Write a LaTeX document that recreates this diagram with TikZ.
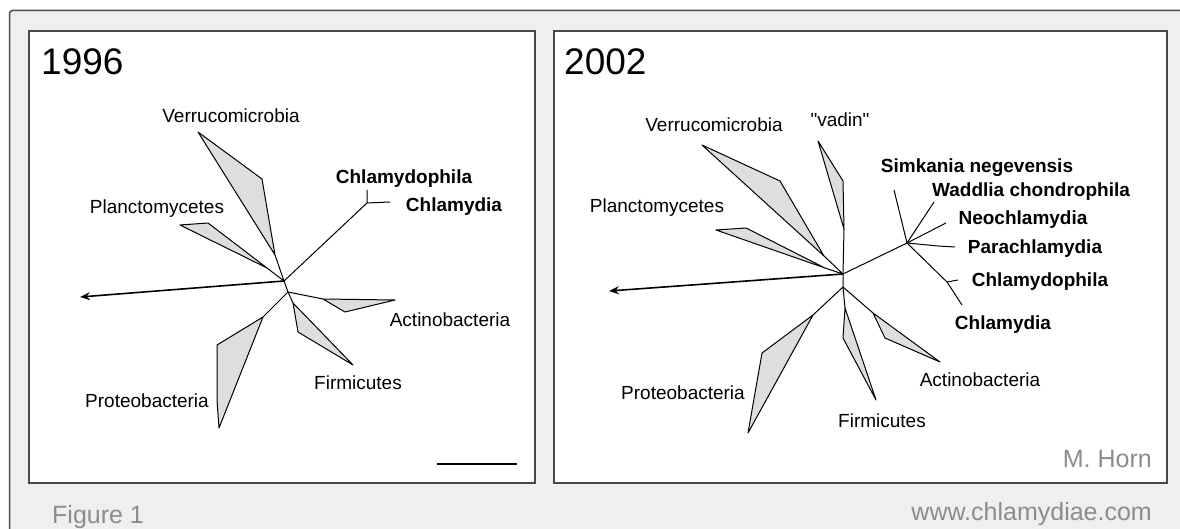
\documentclass[tikz,border=0pt]{standalone}
\usepackage{fontspec}
\setmainfont{Liberation Sans}
\newfontfamily\labelfont{Liberation Sans}
\usetikzlibrary{arrows.meta}
\definecolor{panelgray}{HTML}{EFEFEF}
\definecolor{framegray}{HTML}{4A4A4A}
\definecolor{wedgegray}{HTML}{DEDEDE}
\definecolor{captiongray}{HTML}{8C8C8C}
\tikzset{
	branch/.style={line width=1pt, line join=round},
	wedge/.style={branch, fill=wedgegray},
	panel/.style={draw=framegray, line width=2pt, fill=white},
	taxon/.style={inner sep=0pt, font=\labelfont\fontsize{19}{19}\selectfont},
	taxonbold/.style={inner sep=0pt, font=\labelfont\fontsize{19}{19}\selectfont\bfseries},
	year/.style={inner sep=0pt, anchor=base west, font=\fontsize{37}{37}\selectfont},
	caption/.style={inner sep=0pt, text=captiongray, font=\fontsize{25}{25}\selectfont},
	outgroup/.style={line width=1.6pt, -{Stealth[length=10pt,width=8pt]}},
}
\begin{document}
\begin{tikzpicture}[x=1pt,y=-1pt]
	\useasboundingbox (0,0) rectangle (1180,529);
	\clip (0,0) rectangle (1180,529);
	% frame and panels
	\draw [draw=framegray, line width=1.5pt, fill=panelgray, rounded corners=3pt] (9.5,10.5) rectangle (1220,560);
	\draw [panel] (29,31) rectangle (535,483);
	\draw [panel] (554,31) rectangle (1167,483);

	\node [year] (y-1996) at (41,75) {1996};
	\node [year] (y-2002) at (564,75) {2002};

	% 1996 tree
	\foreach \n/\x/\y in {a/284/281, b/288/292, out/80/297,
			chl/367/203, chl-1/367/190, chl-2/390/202,
			ver-1/198/132, ver-2/262/179, ver-3/275/255,
			pla-1/180/225, pla-2/208/223, pla-3/267/268,
			act-1/323/299, act-2/395/300, act-3/345/312,
			fir-1/293/303, fir-2/298/332, fir-3/353/365,
			pro-1/263/317, pro-2/217/345, pro-3/217/400, pro-4/219/428}{
			\coordinate (l-\n) at (\x,\y);
		}
	\draw [wedge] (l-ver-1) -- (l-ver-2) -- (l-ver-3) -- cycle;
	\draw [wedge] (l-pla-1) -- (l-pla-2) -- (l-pla-3) -- cycle;
	\draw [wedge] (l-act-1) -- (l-act-2) -- (l-act-3) -- cycle;
	\draw [wedge] (l-fir-1) -- (l-fir-2) -- (l-fir-3) -- cycle;
	\draw [wedge] (l-pro-1) -- (l-pro-2) -- (l-pro-3) -- (l-pro-4) -- cycle;
	\draw [branch] (l-ver-3) -- (l-a) -- (l-pla-3);
	\draw [branch] (l-a) -- (l-b);
	\draw [branch] (l-act-1) -- (l-b) -- (l-fir-1);
	\draw [branch] (l-b) -- (l-pro-1);
	\draw [branch] (l-a) -- (l-chl);
	\draw [branch] (l-chl-1) -- (l-chl) -- (l-chl-2);
	\draw [outgroup] (l-a) -- (l-out);
	\coordinate (bar-1) at (437,464);
	\coordinate (bar-2) at (517,464);
	\draw [line width=1.5pt] (bar-1) -- (bar-2);

	\foreach \n/\x/\y/\t in {ver/231/116/Verrucomicrobia, pla/157/209/Planctomycetes,
			act/450/320/Actinobacteria, fir/358/383/Firmicutes, pro/147/401/Proteobacteria}{
			\node [taxon] (lt-\n) at (\x,\y) {\t};
		}
	\node [taxonbold] (lt-chl-1) at (404,179) {Chlamydophila};
	\node [taxonbold] (lt-chl-2) at (454,207) {Chlamydia};

	% 2002 tree
	\foreach \n/\x/\y in {a/843/274, b/843/287, out/609/291,
			ver-1/702/145, ver-2/780/181, ver-3/824/256,
			vad-1/818/141, vad-2/843/181, vad-3/844/229,
			pla-1/716/230, pla-2/746/228, pla-3/825/268,
			pro-1/813/315, pro-2/762/353, pro-3/748/433,
			fir-1/845/308, fir-2/843/338, fir-3/876/400,
			act-1/873/313, act-2/885/338, act-3/940/362,
			chl/907/243, sim/894/190, wad/934/202, neo/946/223,
			par-1/938/246, par-2/955/247,
			cla/947/282, cla-1/958/280, cla-2/962/305}{
			\coordinate (r-\n) at (\x,\y);
		}
	\draw [wedge] (r-ver-1) -- (r-ver-2) -- (r-ver-3) -- cycle;
	\draw [wedge] (r-vad-1) -- (r-vad-2) -- (r-vad-3) -- cycle;
	\draw [wedge] (r-pla-1) -- (r-pla-2) -- (r-pla-3) -- cycle;
	\draw [wedge] (r-pro-1) -- (r-pro-2) -- (r-pro-3) -- cycle;
	\draw [wedge] (r-fir-1) -- (r-fir-2) -- (r-fir-3) -- cycle;
	\draw [wedge] (r-act-1) -- (r-act-2) -- (r-act-3) -- cycle;
	\draw [branch] (r-ver-3) -- (r-a) -- (r-pla-3);
	\draw [branch] (r-vad-3) -- (r-a) -- (r-b);
	\draw [branch] (r-pro-1) -- (r-b) -- (r-fir-1);
	\draw [branch] (r-b) -- (r-act-1);
	\draw [branch] (r-a) -- (r-chl);
	\foreach \t in {sim, wad, neo}{
			\draw [branch] (r-chl) -- (r-\t);
		}
	\draw [branch] (r-chl) -- (r-par-1) -- (r-par-2);
	\draw [branch] (r-chl) -- (r-cla) -- (r-cla-2);
	\draw [branch] (r-cla) -- (r-cla-1);
	\draw [outgroup] (r-a) -- (r-out);

	\foreach \n/\x/\y/\t in {ver/714/125/Verrucomicrobia, vad/840/120/"vadin", pla/657/208/Planctomycetes,
			act/980/380/Actinobacteria, fir/882/421/Firmicutes, pro/683/393/Proteobacteria}{
			\node [taxon] (rt-\n) at (\x,\y) {\t};
		}
	\foreach \n/\x/\y/\t in {sim/977/168/Simkania negevensis, wad/1031/192/Waddlia chondrophila,
			neo/1023/220/Neochlamydia, par/1035/249/Parachlamydia,
			cla-1/1040/282/Chlamydophila, cla-2/1003/325/Chlamydia}{
			\node [taxonbold] (rt-\n) at (\x,\y) {\t};
		}

	\node [caption, anchor=base east] (author) at (1152,467) {M. Horn};
	\node [caption, anchor=base west] (fig) at (52,523) {Figure 1};
	\node [caption, anchor=base east] (www) at (1152,520) {www.chlamydiae.com};
\end{tikzpicture}
\end{document}
